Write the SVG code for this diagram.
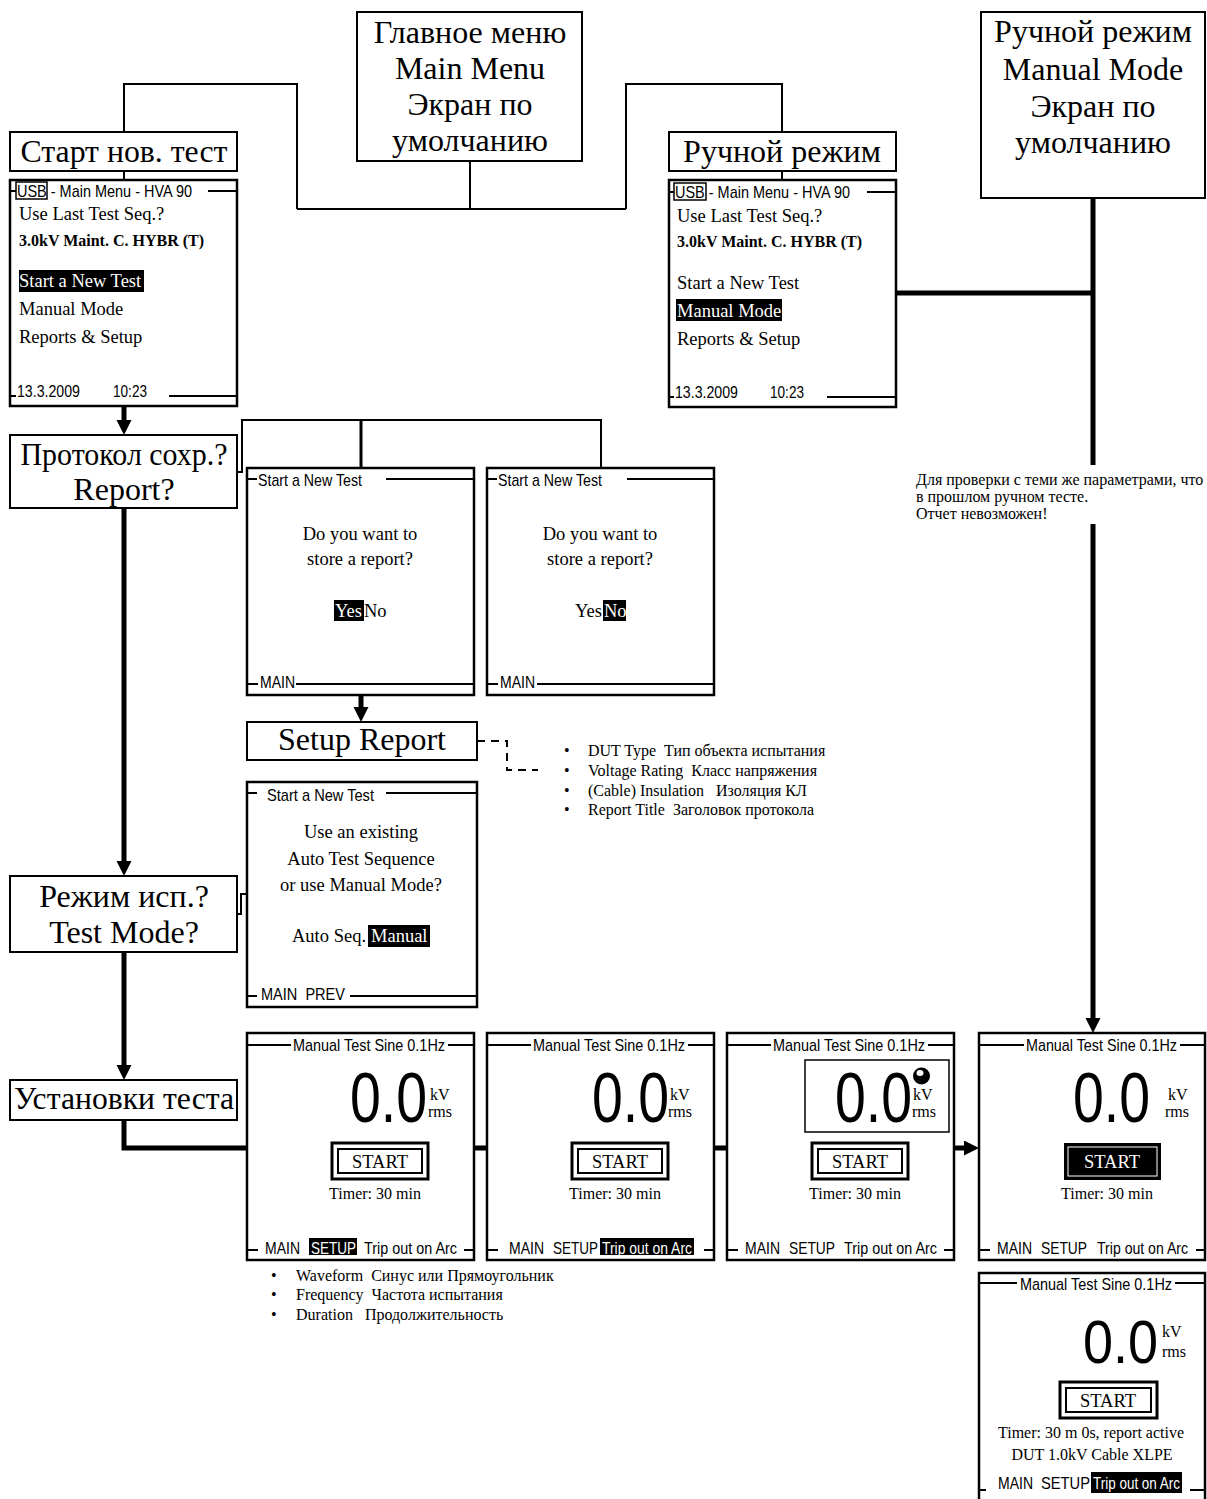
<svg xmlns="http://www.w3.org/2000/svg" width="1207" height="1499" viewBox="0 0 1207 1499">
<defs>
<style>
.box{fill:#fff;stroke:#000;stroke-width:2}
.scr{fill:#fff;stroke:#000;stroke-width:2.5}
.ln{fill:none;stroke:#000;stroke-width:2}
.tk{fill:none;stroke:#000;stroke-width:5}
.dash{fill:none;stroke:#000;stroke-width:2;stroke-dasharray:8,6}
.big{font-family:"Liberation Serif","Times New Roman",serif;font-size:32px;text-anchor:middle;fill:#000}
.s{font-family:"Liberation Serif","Times New Roman",serif;font-size:18.5px;fill:#000}
.t{font-family:"Liberation Serif","Times New Roman",serif;font-size:16px;fill:#000}
.m{text-anchor:middle}
.b{font-weight:bold}
.sn{font-family:"Liberation Sans",Arial,sans-serif;font-size:17px;fill:#000}
.num{font-family:"Liberation Sans",Arial,sans-serif;font-size:71px;fill:#000}
.sm{font-family:"Liberation Serif","Times New Roman",serif;font-size:16px;fill:#000}
.w{fill:#fff}
.k{fill:#000}
.st1{fill:none;stroke:#000;stroke-width:3}
.st2{fill:none;stroke:#000;stroke-width:2}
</style>
<marker id="ah" markerUnits="userSpaceOnUse" markerWidth="16" markerHeight="16" refX="0" refY="7.5" orient="auto"><path d="M0,0 L15,7.5 L0,15 Z" fill="#000"/></marker>
</defs>
<rect width="1207" height="1499" fill="#fff"/>

<g id="connectors">
<path class="ln" d="M470,161 V209 M297,209 H626 M297,209 V84 H124 V132 M626,209 V84 H782 V132 M124,171 V180 M782,171 V180"/>
<path class="ln" d="M237,472 H242 V420 H601 V468"/>
<path d="M361,420 V468" fill="none" stroke="#000" stroke-width="3"/>
<path class="ln" d="M237,914 H241 V894 H247"/>
<path class="dash" d="M477,741 H507 V770 H538"/>
<path class="tk" d="M124,406 V420" marker-end="url(#ah)"/>
<path class="tk" d="M124,508 V861" marker-end="url(#ah)"/>
<path class="tk" d="M124,952 V1065" marker-end="url(#ah)"/>
<path class="tk" d="M361,695 V707" marker-end="url(#ah)"/>
<path class="tk" d="M124,1120 V1148 H247 M474,1148 H487 M714,1148 H727"/>
<path class="tk" d="M954,1148 H964" marker-end="url(#ah)"/>
<path class="tk" d="M896,293 H1093 M1093,198 V465"/>
<path class="tk" d="M1093,524 V1018" marker-end="url(#ah)"/>
</g>

<g id="main-menu">
<rect class="box" x="357" y="12" width="225" height="149"/>
<text class="big" x="470" y="43">Главное меню</text>
<text class="big" x="470" y="79">Main Menu</text>
<text class="big" x="470" y="115">Экран по</text>
<text class="big" x="470" y="151">умолчанию</text>
</g>

<g id="manual-mode-default">
<rect class="box" x="981" y="12" width="224" height="186"/>
<text class="big" x="1093" y="42">Ручной режим</text>
<text class="big" x="1093" y="80">Manual Mode</text>
<text class="big" x="1093" y="117">Экран по</text>
<text class="big" x="1093" y="153">умолчанию</text>
</g>

<g id="start-new-test">
<rect class="box" x="10" y="132" width="227" height="39"/>
<text class="big" x="124" y="162" textLength="207" lengthAdjust="spacingAndGlyphs">Старт нов. тест</text>
</g>

<g id="manual-mode-label">
<rect class="box" x="669" y="132" width="227" height="39"/>
<text class="big" x="782" y="162">Ручной режим</text>
</g>

<g id="screen-main-start">
<rect class="scr" x="10" y="180" width="227" height="226"/>
<line class="ln" x1="10" y1="191" x2="16" y2="191"/>
<rect x="16" y="182" width="31" height="17" fill="none" stroke="#000" stroke-width="1.5"/>
<text class="sn" x="17" y="197" textLength="175" lengthAdjust="spacingAndGlyphs">USB - Main Menu - HVA 90</text>
<line class="ln" x1="208" y1="191" x2="237" y2="191"/>
<text class="s" x="19" y="220">Use Last Test Seq.?</text>
<text class="s b" x="19" y="246" style="font-size:16px">3.0kV Maint. C. HYBR (T)</text>
<rect class="k" x="19" y="270" width="125" height="22"/>
<text class="s w" x="19" y="287">Start a New Test</text>
<text class="s" x="19" y="315">Manual Mode</text>
<text class="s" x="19" y="343">Reports &amp; Setup</text>
<line class="ln" x1="10" y1="396" x2="16" y2="396"/>
<text class="sn" x="17" y="397" textLength="63" lengthAdjust="spacingAndGlyphs">13.3.2009</text>
<text class="sn" x="113" y="397" textLength="34" lengthAdjust="spacingAndGlyphs">10:23</text>
<line class="ln" x1="169" y1="396" x2="237" y2="396"/>
</g>

<g id="screen-main-manual">
<rect class="scr" x="669" y="180" width="227" height="227"/>
<line class="ln" x1="669" y1="192" x2="674" y2="192"/>
<rect x="674" y="183" width="32" height="17" fill="none" stroke="#000" stroke-width="1.5"/>
<text class="sn" x="675" y="198" textLength="175" lengthAdjust="spacingAndGlyphs">USB - Main Menu - HVA 90</text>
<line class="ln" x1="867" y1="192" x2="896" y2="192"/>
<text class="s" x="677" y="222">Use Last Test Seq.?</text>
<text class="s b" x="677" y="247" style="font-size:16px">3.0kV Maint. C. HYBR (T)</text>
<text class="s" x="677" y="289">Start a New Test</text>
<rect class="k" x="676" y="299" width="106" height="22"/>
<text class="s w" x="677" y="317">Manual Mode</text>
<text class="s" x="677" y="345">Reports &amp; Setup</text>
<line class="ln" x1="669" y1="397" x2="674" y2="397"/>
<text class="sn" x="675" y="398" textLength="63" lengthAdjust="spacingAndGlyphs">13.3.2009</text>
<text class="sn" x="770" y="398" textLength="34" lengthAdjust="spacingAndGlyphs">10:23</text>
<line class="ln" x1="827" y1="397" x2="896" y2="397"/>
</g>

<g id="report-question">
<rect class="box" x="10" y="435" width="227" height="73"/>
<text class="big" x="124" y="465" textLength="207" lengthAdjust="spacingAndGlyphs">Протокол сохр.?</text>
<text class="big" x="124" y="500">Report?</text>
</g>

<g id="screen-report-yes">
<rect class="scr" x="247" y="468" width="227" height="227"/>
<line class="ln" x1="247" y1="479" x2="257" y2="479"/>
<text class="sn" x="258" y="486" textLength="104" lengthAdjust="spacingAndGlyphs">Start a New Test</text>
<line class="ln" x1="386" y1="479" x2="474" y2="479"/>
<text class="s m" x="360" y="540">Do you want to</text>
<text class="s m" x="360" y="565">store a report?</text>
<rect class="k" x="334" y="600" width="30" height="21"/>
<text class="s w" x="335" y="617">Yes</text>
<text class="s" x="364" y="617">No</text>
<line class="ln" x1="247" y1="684" x2="258" y2="684"/>
<text class="sn" x="260" y="688" textLength="35" lengthAdjust="spacingAndGlyphs">MAIN</text>
<line class="ln" x1="296" y1="684" x2="474" y2="684"/>
</g>

<g id="screen-report-no">
<rect class="scr" x="487" y="468" width="227" height="227"/>
<line class="ln" x1="487" y1="479" x2="497" y2="479"/>
<text class="sn" x="498" y="486" textLength="104" lengthAdjust="spacingAndGlyphs">Start a New Test</text>
<line class="ln" x1="627" y1="479" x2="714" y2="479"/>
<text class="s m" x="600" y="540">Do you want to</text>
<text class="s m" x="600" y="565">store a report?</text>
<text class="s" x="575" y="617">Yes</text>
<rect class="k" x="603" y="600" width="23" height="21"/>
<text class="s w" x="604" y="617">No</text>
<line class="ln" x1="487" y1="684" x2="498" y2="684"/>
<text class="sn" x="500" y="688" textLength="35" lengthAdjust="spacingAndGlyphs">MAIN</text>
<line class="ln" x1="537" y1="684" x2="714" y2="684"/>
</g>

<g id="setup-report">
<rect class="box" x="247" y="722" width="230" height="38"/>
<text class="big" x="362" y="750">Setup Report</text>
</g>

<g id="setup-report-items">
<text class="sm" x="564" y="756">•</text>
<text class="sm" x="588" y="756" xml:space="preserve">DUT Type  Тип объекта испытания</text>
<text class="sm" x="564" y="776">•</text>
<text class="sm" x="588" y="776" xml:space="preserve">Voltage Rating  Класс напряжения</text>
<text class="sm" x="564" y="796">•</text>
<text class="sm" x="588" y="796" xml:space="preserve">(Cable) Insulation   Изоляция КЛ</text>
<text class="sm" x="564" y="815">•</text>
<text class="sm" x="588" y="815" xml:space="preserve">Report Title  Заголовок протокола</text>
</g>

<g id="manual-note">
<text class="sm" x="916" y="485">Для проверки с теми же параметрами, что</text>
<text class="sm" x="916" y="502">в прошлом ручном тесте.</text>
<text class="sm" x="916" y="519">Отчет невозможен!</text>
</g>

<g id="test-mode-question">
<rect class="box" x="10" y="876" width="227" height="76"/>
<text class="big" x="124" y="907">Режим исп.?</text>
<text class="big" x="124" y="943">Test Mode?</text>
</g>

<g id="screen-test-mode">
<rect class="scr" x="247" y="782" width="230" height="225"/>
<line class="ln" x1="247" y1="793" x2="257" y2="793"/>
<text class="sn" x="267" y="801" textLength="107" lengthAdjust="spacingAndGlyphs">Start a New Test</text>
<line class="ln" x1="386" y1="793" x2="477" y2="793"/>
<text class="s m" x="361" y="838">Use an existing</text>
<text class="s m" x="361" y="865">Auto Test Sequence</text>
<text class="s m" x="361" y="891">or use Manual Mode?</text>
<text class="s" x="292" y="942">Auto Seq.</text>
<rect class="k" x="368" y="925" width="62" height="22"/>
<text class="s w" x="371" y="942">Manual</text>
<line class="ln" x1="247" y1="996" x2="257" y2="996"/>
<text class="sn" x="261" y="1000" textLength="84" lengthAdjust="spacingAndGlyphs" xml:space="preserve">MAIN  PREV</text>
<line class="ln" x1="350" y1="996" x2="477" y2="996"/>
</g>

<g id="test-settings">
<rect class="box" x="10" y="1080" width="227" height="40"/>
<text class="big" x="124" y="1109" textLength="220" lengthAdjust="spacingAndGlyphs">Установки теста</text>
</g>

<g id="screen-manual-1">
<rect class="scr" x="247" y="1033" width="227" height="227"/>
<line class="ln" x1="247" y1="1045" x2="291" y2="1045"/>
<text class="sn" x="293" y="1051" textLength="152" lengthAdjust="spacingAndGlyphs">Manual Test Sine 0.1Hz</text>
<line class="ln" x1="448" y1="1045" x2="474" y2="1045"/>
<text class="num" x="350" y="1122" textLength="77" lengthAdjust="spacingAndGlyphs">0.0</text>
<text class="t" x="430" y="1100">kV</text>
<text class="t" x="428" y="1117">rms</text>
<rect class="st1" x="332" y="1143" width="96" height="36"/>
<rect class="st2" x="338" y="1149" width="84" height="24"/>
<text class="s m" x="380" y="1168">START</text>
<text class="t m" x="375" y="1199">Timer: 30 min</text>
<line class="ln" x1="247" y1="1250" x2="258" y2="1250"/>
<text class="sn" x="265" y="1254" textLength="35" lengthAdjust="spacingAndGlyphs">MAIN</text>
<rect class="k" x="309" y="1238" width="48" height="17"/>
<text class="sn w" x="311" y="1254" textLength="45" lengthAdjust="spacingAndGlyphs">SETUP</text>
<text class="sn" x="364" y="1254" textLength="93" lengthAdjust="spacingAndGlyphs">Trip out on Arc</text>
<line class="ln" x1="464" y1="1250" x2="474" y2="1250"/>
</g>

<g id="setup-items">
<text class="t" x="271" y="1281">•</text>
<text class="t" x="296" y="1281" xml:space="preserve">Waveform  Синус или Прямоугольник</text>
<text class="t" x="271" y="1300">•</text>
<text class="t" x="296" y="1300" xml:space="preserve">Frequency  Частота испытания</text>
<text class="t" x="271" y="1320">•</text>
<text class="t" x="296" y="1320" xml:space="preserve">Duration   Продолжительность</text>
</g>

<g id="screen-manual-2">
<rect class="scr" x="487" y="1033" width="227" height="227"/>
<line class="ln" x1="487" y1="1045" x2="531" y2="1045"/>
<text class="sn" x="533" y="1051" textLength="152" lengthAdjust="spacingAndGlyphs">Manual Test Sine 0.1Hz</text>
<line class="ln" x1="688" y1="1045" x2="714" y2="1045"/>
<text class="num" x="592" y="1122" textLength="77" lengthAdjust="spacingAndGlyphs">0.0</text>
<text class="t" x="670" y="1100">kV</text>
<text class="t" x="668" y="1117">rms</text>
<rect class="st1" x="572" y="1143" width="96" height="36"/>
<rect class="st2" x="578" y="1149" width="84" height="24"/>
<text class="s m" x="620" y="1168">START</text>
<text class="t m" x="615" y="1199">Timer: 30 min</text>
<line class="ln" x1="487" y1="1250" x2="498" y2="1250"/>
<text class="sn" x="509" y="1254" textLength="35" lengthAdjust="spacingAndGlyphs">MAIN</text>
<text class="sn" x="553" y="1254" textLength="45" lengthAdjust="spacingAndGlyphs">SETUP</text>
<rect class="k" x="600" y="1238" width="94" height="17"/>
<text class="sn w" x="602" y="1254" textLength="90" lengthAdjust="spacingAndGlyphs">Trip out on Arc</text>
<line class="ln" x1="704" y1="1250" x2="714" y2="1250"/>
</g>

<g id="screen-manual-3">
<rect class="scr" x="727" y="1033" width="227" height="227"/>
<line class="ln" x1="727" y1="1045" x2="771" y2="1045"/>
<text class="sn" x="773" y="1051" textLength="152" lengthAdjust="spacingAndGlyphs">Manual Test Sine 0.1Hz</text>
<line class="ln" x1="928" y1="1045" x2="954" y2="1045"/>
<rect x="805" y="1060" width="144" height="72" fill="none" stroke="#000" stroke-width="1.5"/>
<text class="num" x="835" y="1122" textLength="77" lengthAdjust="spacingAndGlyphs">0.0</text>
<circle cx="921.5" cy="1076" r="8.5" fill="#000"/>
<ellipse cx="920" cy="1073" rx="3.5" ry="3" fill="#fff"/>
<text class="t" x="913" y="1100">kV</text>
<text class="t" x="912" y="1117">rms</text>
<rect class="st1" x="812" y="1143" width="96" height="36"/>
<rect class="st2" x="818" y="1149" width="84" height="24"/>
<text class="s m" x="860" y="1168">START</text>
<text class="t m" x="855" y="1199">Timer: 30 min</text>
<line class="ln" x1="727" y1="1250" x2="738" y2="1250"/>
<text class="sn" x="745" y="1254" textLength="35" lengthAdjust="spacingAndGlyphs">MAIN</text>
<text class="sn" x="789" y="1254" textLength="46" lengthAdjust="spacingAndGlyphs">SETUP</text>
<text class="sn" x="844" y="1254" textLength="93" lengthAdjust="spacingAndGlyphs">Trip out on Arc</text>
<line class="ln" x1="944" y1="1250" x2="954" y2="1250"/>
</g>

<g id="screen-manual-4">
<rect class="scr" x="979" y="1033" width="226" height="227"/>
<line class="ln" x1="979" y1="1045" x2="1024" y2="1045"/>
<text class="sn" x="1026" y="1051" textLength="151" lengthAdjust="spacingAndGlyphs">Manual Test Sine 0.1Hz</text>
<line class="ln" x1="1180" y1="1045" x2="1205" y2="1045"/>
<text class="num" x="1073" y="1122" textLength="77" lengthAdjust="spacingAndGlyphs">0.0</text>
<text class="t" x="1168" y="1100">kV</text>
<text class="t" x="1165" y="1117">rms</text>
<rect class="k" x="1064" y="1143" width="97" height="37"/>
<rect x="1068" y="1147" width="89" height="29" fill="none" stroke="#fff" stroke-width="1"/>
<text class="s m w" x="1112" y="1168">START</text>
<text class="t m" x="1107" y="1199">Timer: 30 min</text>
<line class="ln" x1="979" y1="1250" x2="990" y2="1250"/>
<text class="sn" x="997" y="1254" textLength="35" lengthAdjust="spacingAndGlyphs">MAIN</text>
<text class="sn" x="1041" y="1254" textLength="46" lengthAdjust="spacingAndGlyphs">SETUP</text>
<text class="sn" x="1097" y="1254" textLength="91" lengthAdjust="spacingAndGlyphs">Trip out on Arc</text>
<line class="ln" x1="1196" y1="1250" x2="1205" y2="1250"/>
</g>

<g id="screen-manual-5">
<path d="M979,1499 V1273 H1205 V1499" fill="#fff" stroke="#000" stroke-width="2.5"/>
<line class="ln" x1="979" y1="1283" x2="1017" y2="1283"/>
<text class="sn" x="1020" y="1290" textLength="152" lengthAdjust="spacingAndGlyphs">Manual Test Sine 0.1Hz</text>
<line class="ln" x1="1175" y1="1283" x2="1205" y2="1283"/>
<text class="num" x="1083" y="1363" textLength="75" lengthAdjust="spacingAndGlyphs" style="font-size:61px">0.0</text>
<text class="t" x="1162" y="1337">kV</text>
<text class="t" x="1162" y="1357">rms</text>
<rect class="st1" x="1060" y="1382" width="97" height="36"/>
<rect class="st2" x="1066" y="1388" width="85" height="24"/>
<text class="s m" x="1108" y="1407">START</text>
<text class="t m" x="1091" y="1438">Timer: 30 m 0s, report active</text>
<text class="t m" x="1092" y="1460">DUT 1.0kV Cable XLPE</text>
<line class="ln" x1="979" y1="1490" x2="986" y2="1490"/>
<text class="sn" x="998" y="1489" textLength="35" lengthAdjust="spacingAndGlyphs">MAIN</text>
<text class="sn" x="1041" y="1489" textLength="49" lengthAdjust="spacingAndGlyphs">SETUP</text>
<rect class="k" x="1091" y="1472" width="91" height="21"/>
<text class="sn w" x="1093" y="1489" textLength="87" lengthAdjust="spacingAndGlyphs">Trip out on Arc</text>
<line class="ln" x1="1190" y1="1490" x2="1205" y2="1490"/>
</g>
</svg>
